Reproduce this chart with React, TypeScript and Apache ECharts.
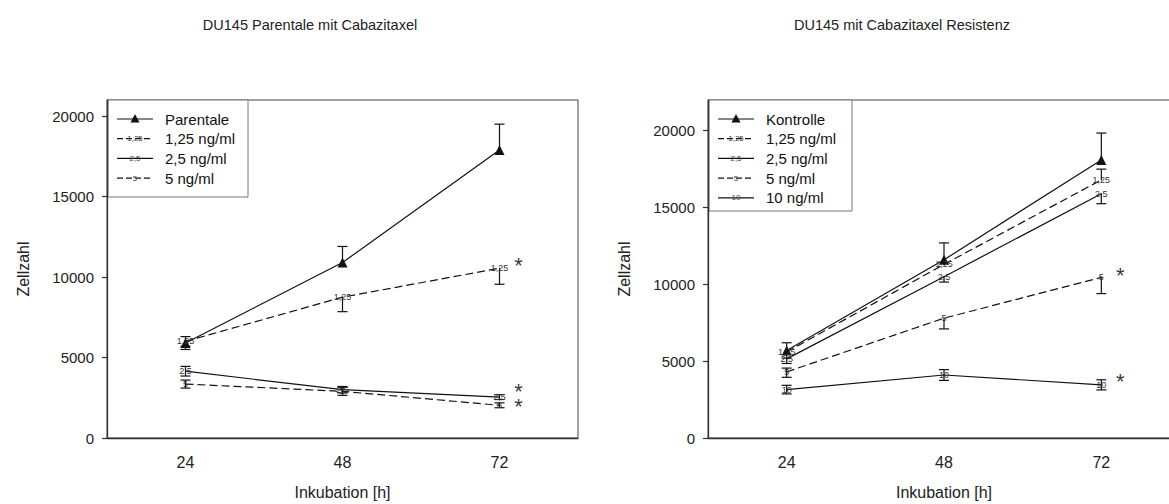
import React, { useEffect, useRef } from "react";
import * as echarts from "echarts";

// ---------- data ----------
const hours = ["24", "48", "72"];

const leftTitle = "DU145 Parentale mit Cabazitaxel";
const rightTitle = "DU145 mit Cabazitaxel Resistenz";
const yName = "Zellzahl";
const xName = "Inkubation [h]";

// left panel (Parentale)
const leftNames = ["Parentale", "1,25 ng/ml", "2,5 ng/ml", "5 ng/ml"];
const leftMarks = ["", "1,25", "2,5", "5"];
const leftParentale = [5900, 10900, 17900];
const leftC125 = [6000, 8750, 10550];
const leftC25 = [4150, 3000, 2540];
const leftC5 = [3350, 2900, 2030];
const leftParentaleUp = [400, 1000, 1600];
const leftParentaleDown = [400, 0, 0];
const leftC125Up = [0, 0, 0];
const leftC125Down = [300, 900, 1000];
const leftC25Up = [300, 200, 150];
const leftC25Down = [300, 200, 150];
const leftC5Up = [250, 250, 150];
const leftC5Down = [250, 250, 150];
const leftSignificant = [false, true, true, true];

// right panel (Resistenz)
const rightNames = ["Kontrolle", "1,25 ng/ml", "2,5 ng/ml", "5 ng/ml", "10 ng/ml"];
const rightMarks = ["", "1,25", "2,5", "5", "10"];
const rightKontrolle = [5700, 11600, 18100];
const rightC125 = [5600, 11300, 16800];
const rightC25 = [5150, 10500, 15900];
const rightC5 = [4300, 7800, 10450];
const rightC10 = [3150, 4100, 3460];
const rightKontrolleUp = [500, 1100, 1750];
const rightKontrolleDown = [500, 0, 0];
const rightC125Up = [0, 0, 700];
const rightC125Down = [0, 0, 0];
const rightC25Up = [0, 0, 0];
const rightC25Down = [300, 350, 650];
const rightC5Up = [250, 0, 0];
const rightC5Down = [350, 700, 1050];
const rightC10Up = [280, 350, 330];
const rightC10Down = [280, 350, 330];
const rightSignificant = [false, false, false, true, true];

const yTicks = [0, 5000, 10000, 15000, 20000];

// ---------- styles ----------
const FONT = "Liberation Sans, Arial, sans-serif";
const INK = "#111";
const DASH = [8, 4];
// vertical nudge of the significance star per series (px)
const leftStarShift = [0, 0, -3, 4];
const rightStarShift = [0, 0, 0, 1, 0];

type Ser = { name: string; mark: string; values: number[]; up: number[]; down: number[]; dashed: boolean; triangle: boolean; sig: boolean; shift: number };

const leftSeries: Ser[] = [
  { name: leftNames[0], mark: leftMarks[0], values: leftParentale, up: leftParentaleUp, down: leftParentaleDown, dashed: false, triangle: true, sig: leftSignificant[0], shift: leftStarShift[0] },
  { name: leftNames[1], mark: leftMarks[1], values: leftC125, up: leftC125Up, down: leftC125Down, dashed: true, triangle: false, sig: leftSignificant[1], shift: leftStarShift[1] },
  { name: leftNames[2], mark: leftMarks[2], values: leftC25, up: leftC25Up, down: leftC25Down, dashed: false, triangle: false, sig: leftSignificant[2], shift: leftStarShift[2] },
  { name: leftNames[3], mark: leftMarks[3], values: leftC5, up: leftC5Up, down: leftC5Down, dashed: true, triangle: false, sig: leftSignificant[3], shift: leftStarShift[3] },
];
const rightSeries: Ser[] = [
  { name: rightNames[0], mark: rightMarks[0], values: rightKontrolle, up: rightKontrolleUp, down: rightKontrolleDown, dashed: false, triangle: true, sig: rightSignificant[0], shift: rightStarShift[0] },
  { name: rightNames[1], mark: rightMarks[1], values: rightC125, up: rightC125Up, down: rightC125Down, dashed: true, triangle: false, sig: rightSignificant[1], shift: rightStarShift[1] },
  { name: rightNames[2], mark: rightMarks[2], values: rightC25, up: rightC25Up, down: rightC25Down, dashed: false, triangle: false, sig: rightSignificant[2], shift: rightStarShift[2] },
  { name: rightNames[3], mark: rightMarks[3], values: rightC5, up: rightC5Up, down: rightC5Down, dashed: true, triangle: false, sig: rightSignificant[3], shift: rightStarShift[3] },
  { name: rightNames[4], mark: rightMarks[4], values: rightC10, up: rightC10Up, down: rightC10Down, dashed: false, triangle: false, sig: rightSignificant[4], shift: rightStarShift[4] },
];

function buildSeries(list: Ser[], axis: number) {
  const out: any[] = [];
  const last = hours.length - 1;
  list.forEach((s) => {
    out.push({
      type: "custom",
      xAxisIndex: axis,
      yAxisIndex: axis,
      z: 3,
      silent: true,
      data: s.values.map((v, i) => [i, v - s.down[i], v + s.up[i], v]),
      encode: { x: 0, y: [1, 2] },
      renderItem: (params: any, api: any) => {
        const i = api.value(0);
        const lo = api.value(1);
        const hi = api.value(2);
        const v = api.value(3);
        const pLo = api.coord([i, lo]);
        const pHi = api.coord([i, hi]);
        const st = { stroke: INK, lineWidth: 1.2 };
        const hw = 5;
        const ch: any[] = [];
        if (hi !== lo) {
          ch.push({ type: "line", shape: { x1: pLo[0], y1: pLo[1], x2: pHi[0], y2: pHi[1] }, style: st });
          if (hi !== v) ch.push({ type: "line", shape: { x1: pHi[0] - hw, y1: pHi[1], x2: pHi[0] + hw, y2: pHi[1] }, style: st });
          if (lo !== v) ch.push({ type: "line", shape: { x1: pLo[0] - hw, y1: pLo[1], x2: pLo[0] + hw, y2: pLo[1] }, style: st });
        }
        return { type: "group", children: ch };
      },
    });
    out.push({
      type: "line",
      name: s.name,
      xAxisIndex: axis,
      yAxisIndex: axis,
      z: 4,
      data: s.values,
      symbol: s.triangle ? "triangle" : "circle",
      symbolSize: s.triangle ? 10 : 1,
      showSymbol: true,
      itemStyle: { color: INK },
      lineStyle: { color: INK, width: 1.2, type: s.dashed ? DASH : "solid" },
      label: s.triangle
        ? { show: false }
        : { show: true, position: "inside", formatter: s.mark, fontSize: 9, lineHeight: 7, color: "#333", fontFamily: FONT },
      labelLayout: { hideOverlap: false },
      silent: true,
    });
    if (s.sig) {
      out.push({
        type: "scatter",
        xAxisIndex: axis,
        yAxisIndex: axis,
        z: 5,
        symbol: "circle",
        symbolSize: 0,
        data: [[last, s.values[last]]],
        silent: true,
        label: { show: true, position: "inside", formatter: "*", offset: [19, -3 + s.shift], fontSize: 22, lineHeight: 9, color: "#000", fontFamily: FONT },
      });
    }
  });
  return out;
}

function buildLegend(list: Ser[], x: number, y: number, w: number, h: number) {
  const children: any[] = [
    { type: "rect", shape: { x, y, width: w, height: h }, style: { fill: "#fff", stroke: "#777", lineWidth: 1 } },
  ];
  const x0 = x + 9;
  const lw = 36;
  list.forEach((s, i) => {
    const yy = y + 19 + i * 19.7;
    children.push({
      type: "line",
      shape: { x1: x0, y1: yy, x2: x0 + lw, y2: yy },
      style: { stroke: INK, lineWidth: 1.2, lineDash: s.dashed ? [6, 3] : null },
    });
    if (s.triangle) {
      const cx = x0 + lw / 2;
      children.push({ type: "polygon", shape: { points: [[cx, yy - 5], [cx - 4.5, yy + 3.5], [cx + 4.5, yy + 3.5]] }, style: { fill: INK } });
    } else {
      children.push({
        type: "text",
        x: x0 + lw / 2,
        y: yy,
        style: { text: s.mark, fontSize: 8, fill: "#444", align: "center", verticalAlign: "middle", fontFamily: FONT },
      });
    }
    children.push({
      type: "text",
      x: x0 + lw + 12,
      y: yy,
      style: { text: s.name, fontSize: 15, fill: "#111", verticalAlign: "middle", fontFamily: FONT },
    });
  });
  return { type: "group", z: 10, children };
}

const GRIDS = [
  { left: 107, top: 100, width: 471, height: 338 },
  { left: 708, top: 100, width: 472, height: 338 },
];
const YMAX = [21000, 22000];

export default function App() {
  const ref = useRef<HTMLDivElement>(null);
  useEffect(() => {
    document.body.style.margin = "0";
    if (!ref.current) return;
    const chart = echarts.init(ref.current, null, { renderer: "svg" });
    const xAxes = GRIDS.map((_, gi) => ({
      type: "category",
      gridIndex: gi,
      data: hours,
      boundaryGap: true,
      name: xName,
      nameLocation: "middle",
      nameGap: 46,
      nameTextStyle: { fontSize: 16, color: "#222", fontFamily: FONT },
      axisLine: { lineStyle: { color: "#333", width: 1.3 } },
      axisTick: { alignWithLabel: true, length: 5, lineStyle: { color: "#333", width: 1.2 } },
      axisLabel: { fontSize: 16, color: "#222", margin: 16, fontFamily: FONT },
      splitLine: { show: false },
    }));
    const yAxes = GRIDS.map((_, gi) => ({
      type: "value",
      gridIndex: gi,
      min: 0,
      max: YMAX[gi],
      interval: 5000,
      name: yName,
      nameLocation: "middle",
      nameGap: 76,
      nameRotate: 90,
      nameTextStyle: { fontSize: 16, color: "#222", fontFamily: FONT },
      axisLine: { show: true, lineStyle: { color: "#333", width: 1.3 } },
      axisTick: { show: true, length: 5, customValues: yTicks, lineStyle: { color: "#333", width: 1.2 } },
      axisLabel: { fontSize: 15, color: "#222", margin: 13, customValues: yTicks, fontFamily: FONT, formatter: (v: number) => String(v) },
      splitLine: { show: false },
    }));
    chart.setOption({
      animation: false,
      backgroundColor: "#fff",
      textStyle: { fontFamily: FONT },
      title: [
        { text: leftTitle, left: 305, top: 12, textAlign: "center", textStyle: { fontSize: 14.5, fontWeight: "normal", color: "#222", fontFamily: FONT } },
        { text: rightTitle, left: 897, top: 12, textAlign: "center", textStyle: { fontSize: 14.5, fontWeight: "normal", color: "#222", fontFamily: FONT } },
      ],
      grid: GRIDS.map((g) => ({ ...g, show: true, borderColor: "#444", borderWidth: 1, backgroundColor: "transparent", containLabel: false, outerBoundsMode: "none" })),
      xAxis: xAxes,
      yAxis: yAxes,
      series: [...buildSeries(leftSeries, 0), ...buildSeries(rightSeries, 1)],
      graphic: [buildLegend(leftSeries, 108, 100, 140, 97), buildLegend(rightSeries, 709, 100, 143, 111)],
    });
    return () => chart.dispose();
  }, []);
  return <div ref={ref} style={{ width: 1169, height: 504 }} />;
}
